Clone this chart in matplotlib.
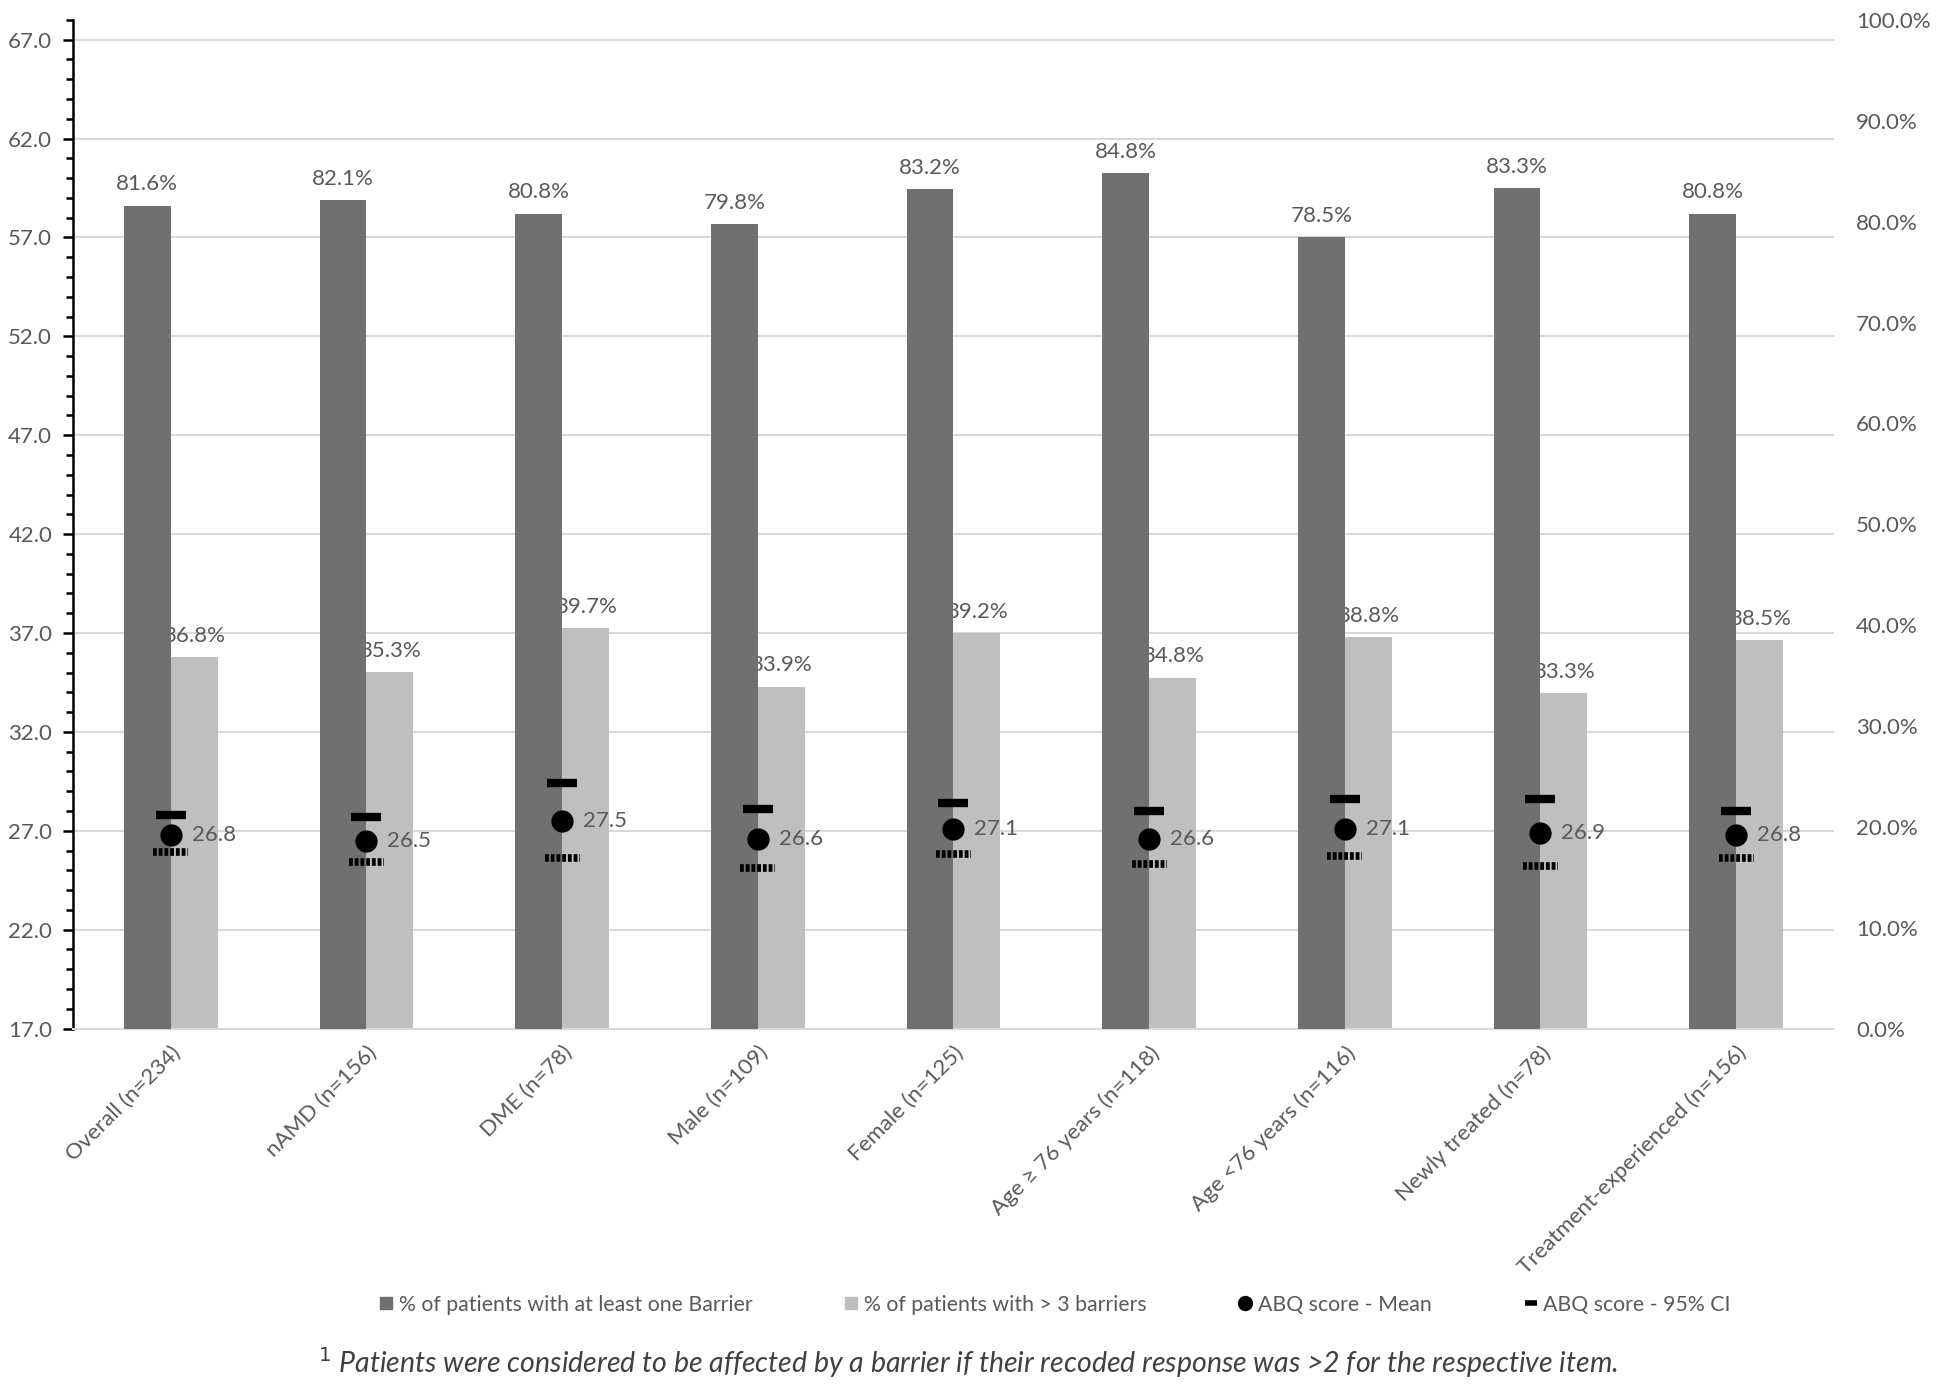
import numpy as np
import matplotlib
matplotlib.use('Agg')
import matplotlib.pyplot as plt
from matplotlib.lines import Line2D
from matplotlib.ticker import MultipleLocator, FuncFormatter

plt.rcParams['font.family'] = ['Lato', 'DejaVu Sans']

# data
groups = ['Overall (n=234)', 'nAMD (n=156)', 'DME (n=78)', 'Male (n=109)',
          'Female (n=125)', 'Age \u2265 76 years (n=118)', 'Age <76 years (n=116)',
          'Newly treated (n=78)', 'Treatment-experienced (n=156)']
pct_one = [81.6, 82.1, 80.8, 79.8, 83.2, 84.8, 78.5, 83.3, 80.8]
pct_three = [36.8, 35.3, 39.7, 33.9, 39.2, 34.8, 38.8, 33.3, 38.5]
abq_mean = [26.8, 26.5, 27.5, 26.6, 27.1, 26.6, 27.1, 26.9, 26.8]
abq_upper = [27.8, 27.7, 29.4, 28.1, 28.4, 28.0, 28.6, 28.6, 28.0]
abq_lower = [25.9, 25.4, 25.6, 25.1, 25.8, 25.3, 25.7, 25.2, 25.6]

# left axis 17..68 maps to right axis 0..100 %
Y0, Y1 = 17.0, 68.0
def pct_to_score(p):
    return Y0 + np.asarray(p) * (Y1 - Y0) / 100.0
def score_to_pct(s):
    return (np.asarray(s) - Y0) * 100.0 / (Y1 - Y0)

dark = '#707070'
light = '#bfbfbf'
txt = '#595959'
fs = 16

fig = plt.figure(figsize=(19.36, 13.85), dpi=100)
ax = fig.add_axes([0.0377, 0.2574, 0.9096, 0.7282])

x = np.arange(len(groups))
w = 0.24

b1 = ax.bar(x - w / 2, pct_to_score(pct_one) - Y0, width=w, bottom=Y0,
            color=dark, zorder=3)
b2 = ax.bar(x + w / 2, pct_to_score(pct_three) - Y0, width=w, bottom=Y0,
            color=light, zorder=2)

for xi, p in zip(x, pct_one):
    ax.annotate(f'{p:.1f}%', (xi - w / 2, pct_to_score(p)), xytext=(0, 8),
                textcoords='offset points', ha='center', va='bottom',
                fontsize=fs, color=txt, zorder=4)
for xi, p in zip(x, pct_three):
    ax.annotate(f'{p:.1f}%', (xi + w / 2, pct_to_score(p)), xytext=(0, 8),
                textcoords='offset points', ha='center', va='bottom',
                fontsize=fs, color=txt, zorder=2.5)

# ABQ score mean + 95% CI
ax.plot(x, abq_mean, 'o', color='black', markersize=15, linestyle='none', zorder=5)
ax.plot(x, abq_upper, '_', color='black', markersize=21, markeredgewidth=6,
        linestyle='none', zorder=5)
ax.hlines(abq_lower, x - 0.09, x + 0.09, colors='black', linewidth=5.5,
          linestyles=(0, (0.5, 0.25)), zorder=5)
for xi, m in zip(x, abq_mean):
    ax.annotate(f'{m:.1f}', (xi, m), xytext=(15, 0), textcoords='offset points',
                ha='left', va='center', fontsize=fs, color=txt, zorder=6)

ax.set_xlim(-0.5, len(groups) - 0.5)
ax.set_ylim(Y0, Y1)
ax.yaxis.set_minor_locator(MultipleLocator(1))
ax.set_yticks(np.arange(17, 68, 5))
ax.yaxis.set_major_formatter(FuncFormatter(lambda v, _: f'{v:.1f}'))
ax.tick_params(axis='y', which='major', length=7, width=1.8, color='black',
               labelsize=fs, labelcolor=txt, pad=8)
ax.tick_params(axis='y', which='minor', length=5, width=1.8, color='black')
ax.grid(axis='y', which='major', color='#d9d9d9', linewidth=1.5, zorder=0)
ax.set_axisbelow(True)

ax.set_xticks(x)
ax.set_xticklabels(groups, rotation=45, ha='right', rotation_mode='anchor',
                   fontsize=fs, color=txt)
ax.tick_params(axis='x', length=0, pad=10)

for s in ['top', 'right']:
    ax.spines[s].set_visible(False)
ax.spines['left'].set_linewidth(1.8)
ax.spines['bottom'].set_color('#d9d9d9')
ax.spines['bottom'].set_linewidth(1.5)

sec = ax.secondary_yaxis('right', functions=(score_to_pct, pct_to_score))
sec.set_yticks(np.arange(0, 101, 10))
sec.yaxis.set_major_formatter(FuncFormatter(lambda v, _: f'{v:.1f}%'))
sec.tick_params(length=0, labelsize=fs, labelcolor=txt, pad=16)
sec.spines['right'].set_visible(False)

handles = [
    Line2D([], [], marker='s', color=dark, linestyle='none', markersize=9),
    Line2D([], [], marker='s', color=light, linestyle='none', markersize=9),
    Line2D([], [], marker='o', color='black', linestyle='none', markersize=10),
    Line2D([], [], marker='_', color='black', linestyle='none', markersize=9,
           markeredgewidth=4),
]
labels = ['% of patients with at least one Barrier', '% of patients with > 3 barriers',
          'ABQ score - Mean', 'ABQ score - 95% CI']
fig.legend(handles, labels, loc='center', bbox_to_anchor=(0.545, 0.058), ncol=4,
           frameon=False, fontsize=15.3, labelcolor=txt, handlelength=0.6,
           handletextpad=0.3, columnspacing=4.35)

fig.text(0.5, 0.016, '$^{1}$ Patients were considered to be affected by a barrier if their '
         'recoded response was >2 for the respective item.',
         ha='center', va='center', fontsize=20.5, style='italic', color='#404040')

fig.savefig('out.png', dpi=100)
